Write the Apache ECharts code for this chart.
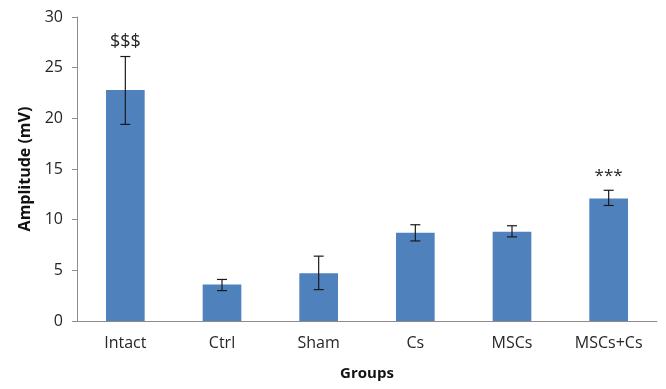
<!DOCTYPE html>
<html>
<head>
<meta charset="utf-8">
<script src="https://cdn.jsdelivr.net/npm/echarts@6/dist/echarts.min.js"></script>
<style>
  html, body { margin: 0; padding: 0; background: #fff; }
  #chart { width: 666px; height: 389px; }
</style>
</head>
<body>
<div id="chart"></div>
<script>
// data
const groups = ["Intact", "Ctrl", "Sham", "Cs", "MSCs", "MSCs+Cs"];
const amplitude = [22.8, 3.6, 4.7, 8.7, 8.8, 12.1];
const errLow = [19.4, 3.0, 3.1, 7.9, 8.3, 11.4];
const errHigh = [26.1, 4.1, 6.4, 9.5, 9.4, 12.9];
const marks = ["$$$", "", "", "", "", "***"];
const yTicks = [0, 5, 10, 15, 20, 25, 30];

const font = "'Open Sans', sans-serif";
const chart = echarts.init(document.getElementById("chart"));

const option = {
  animation: false,
  grid: { left: 77, right: 9, top: 17, bottom: 68 },
  xAxis: {
    type: "category",
    data: groups,
    name: "Groups",
    nameLocation: "middle",
    nameGap: 45,
    nameTextStyle: { fontFamily: font, fontSize: 15, fontWeight: "bold", color: "#111" },
    axisLine: { lineStyle: { color: "#8c8c8c", width: 1 } },
    axisTick: { length: 6, lineStyle: { color: "#8c8c8c" } },
    axisLabel: { fontFamily: font, fontSize: 16, color: "#262626", margin: 14 },
  },
  yAxis: {
    type: "value",
    min: yTicks[0],
    max: yTicks[yTicks.length - 1],
    interval: 5,
    name: "Amplitude (mV)",
    nameLocation: "middle",
    nameGap: 41,
    nameTextStyle: { fontFamily: font, fontSize: 16, fontWeight: "bold", color: "#111" },
    axisLine: { show: true, lineStyle: { color: "#8c8c8c", width: 1 } },
    axisTick: { show: true, length: 5, lineStyle: { color: "#8c8c8c" } },
    splitLine: { show: false },
    axisLabel: { fontFamily: font, fontSize: 16, color: "#262626", margin: 14 },
  },
  series: [
    {
      type: "bar",
      data: amplitude,
      barWidth: "40%",
      itemStyle: { color: "#4f81bd" },
    },
    {
      // error bars plus the significance marks
      type: "custom",
      data: groups.map((g, i) => [i, errLow[i], errHigh[i]]),
      z: 10,
      renderItem: function (params, api) {
        const i = api.value(0);
        const lo = api.coord([i, api.value(1)]);
        const hi = api.coord([i, api.value(2)]);
        const hw = 5;
        const style = { stroke: "#1a1a1a", lineWidth: 1.2 };
        const children = [
          { type: "line", shape: { x1: hi[0], y1: hi[1], x2: lo[0], y2: lo[1] }, style: style },
          { type: "line", shape: { x1: hi[0] - hw, y1: hi[1], x2: hi[0] + hw, y2: hi[1] }, style: style },
          { type: "line", shape: { x1: lo[0] - hw, y1: lo[1], x2: lo[0] + hw, y2: lo[1] }, style: style },
        ];
        if (marks[i]) {
          children.push({
            type: "text",
            style: {
              text: marks[i],
              x: hi[0],
              y: hi[1] - 6,
              align: "center",
              verticalAlign: "bottom",
              fontFamily: font,
              fontSize: marks[i] === "***" ? 17 : 18,
              fill: "#262626",
            },
          });
        }
        return { type: "group", children: children };
      },
    },
  ],
};

chart.setOption(option);
</script>
</body>
</html>
